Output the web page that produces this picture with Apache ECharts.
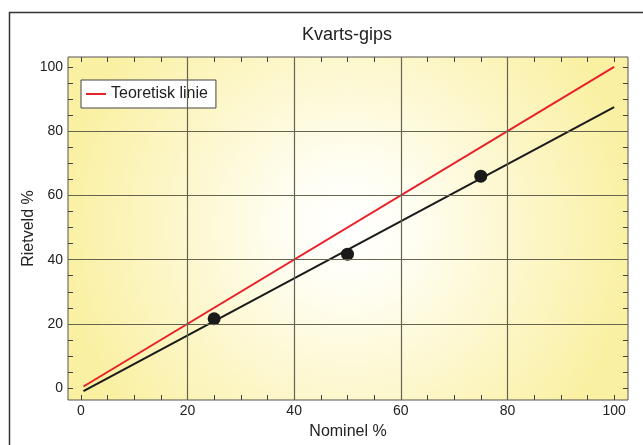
<!DOCTYPE html>
<html>
<head>
<meta charset="utf-8">
<script src="https://cdn.jsdelivr.net/npm/echarts@6/dist/echarts.min.js"></script>
<style>
  html, body { margin: 0; padding: 0; background: #fff; }
  #chart { width: 643px; height: 445px; }
</style>
</head>
<body>
<div id="chart"></div>
<script>
// measured points
var nominel = [25, 50, 75];
var rietveld = [21.6, 41.7, 66.0];
// regression line ends
var fitX = [0.5, 100];
var fitY = [-0.9, 87.5];
// theoretical line y = x
var teoX = [0.5, 100];
var teoY = [0.5, 100];
// ticks / labels
var labelValues = [0, 20, 40, 60, 80, 100];
var tickValues = [0, 5, 10, 15, 20, 25, 30, 35, 40, 45, 50, 55, 60, 65, 70, 75, 80, 85, 90, 95, 100];
var gridValues = [20, 40, 60, 80];

var myChart = echarts.init(document.getElementById('chart'));

var textColor = '#222';
var fontFam = '"Liberation Sans", Arial, sans-serif';

function axisBase(extra) {
  var a = {
    type: 'value',
    axisLine: { show: false, onZero: false },
    axisTick: {
      inside: true,
      length: 5,
      customValues: tickValues,
      lineStyle: { color: '#444', width: 1 }
    },
    axisLabel: {
      customValues: labelValues,
      color: textColor,
      fontSize: 14,
      fontFamily: fontFam
    },
    splitLine: { show: false }
  };
  for (var k in extra) a[k] = extra[k];
  return a;
}

var gridLines = [];
gridValues.forEach(function (v) {
  gridLines.push({ xAxis: v });
  gridLines.push({ yAxis: v });
});

var option = {
  backgroundColor: '#fff',
  animation: false,
  title: {
    text: 'Kvarts-gips',
    left: 297,
    top: 21,
    textStyle: { color: textColor, fontSize: 18, fontWeight: 'normal', fontFamily: fontFam }
  },
  legend: {
    data: ['Teoretisk linie'],
    left: 81,
    top: 80,
    orient: 'vertical',
    icon: 'rect',
    backgroundColor: '#fff',
    borderColor: '#444',
    borderWidth: 1,
    padding: [6, 8, 6, 5],
    itemWidth: 20,
    itemHeight: 2,
    textStyle: { color: textColor, fontSize: 16, fontFamily: fontFam }
  },
  grid: {
    left: 68,
    top: 57,
    right: 15,
    bottom: 42,
    show: true,
    borderColor: '#555',
    borderWidth: 1,
    backgroundColor: new echarts.graphic.RadialGradient(0.5, 0.5, 0.84, [
      { offset: 0, color: '#ffffff' },
      { offset: 0.2, color: '#fffef4' },
      { offset: 1, color: '#faf0a2' }
    ])
  },
  graphic: [{
    type: 'rect',
    shape: { x: 9.5, y: 12.5, width: 700, height: 500 },
    style: { fill: null, stroke: '#333', lineWidth: 1.5 },
    silent: true
  }],
  xAxis: [
    axisBase({
      min: -2.4, max: 102.6, position: 'bottom',
      name: 'Nominel %', nameLocation: 'middle', nameGap: 24,
      nameTextStyle: { color: textColor, fontSize: 16, fontFamily: fontFam },
      axisLabel: { customValues: labelValues, color: textColor, fontSize: 14, fontFamily: fontFam, margin: 4 }
    }),
    axisBase({ min: -2.4, max: 102.6, position: 'top', axisLabel: { show: false } })
  ],
  yAxis: [
    axisBase({
      min: -3.7, max: 103.1, position: 'left',
      name: 'Rietveld %', nameLocation: 'middle', nameGap: 31, nameMoveOverlap: false,
      nameTextStyle: { color: textColor, fontSize: 16, fontFamily: fontFam },
      axisLabel: { customValues: labelValues, color: textColor, fontSize: 14, fontFamily: fontFam, margin: 5 }
    }),
    axisBase({ min: -3.7, max: 103.1, position: 'right', axisLabel: { show: false } })
  ],
  series: [
    {
      name: 'grid',
      type: 'line',
      data: [],
      z: 1,
      silent: true,
      markLine: {
        silent: true,
        symbol: ['none', 'none'],
        label: { show: false },
        lineStyle: { color: '#66644f', width: 1.2, type: 'solid' },
        data: gridLines
      }
    },
    {
      name: 'Teoretisk linie',
      type: 'line',
      symbol: 'none',
      z: 3,
      lineStyle: { color: '#e8202a', width: 2 },
      itemStyle: { color: '#e8202a' },
      data: teoX.map(function (x, i) { return [x, teoY[i]]; })
    },
    {
      name: 'Fit',
      type: 'line',
      symbol: 'none',
      z: 3,
      lineStyle: { color: '#1a1a1a', width: 2 },
      data: fitX.map(function (x, i) { return [x, fitY[i]]; })
    },
    {
      name: 'Data',
      type: 'scatter',
      z: 4,
      symbolSize: 13,
      itemStyle: { color: '#1a1a1a', opacity: 1 },
      data: nominel.map(function (x, i) { return [x, rietveld[i]]; })
    }
  ]
};
myChart.setOption(option);
</script>
</body>
</html>
